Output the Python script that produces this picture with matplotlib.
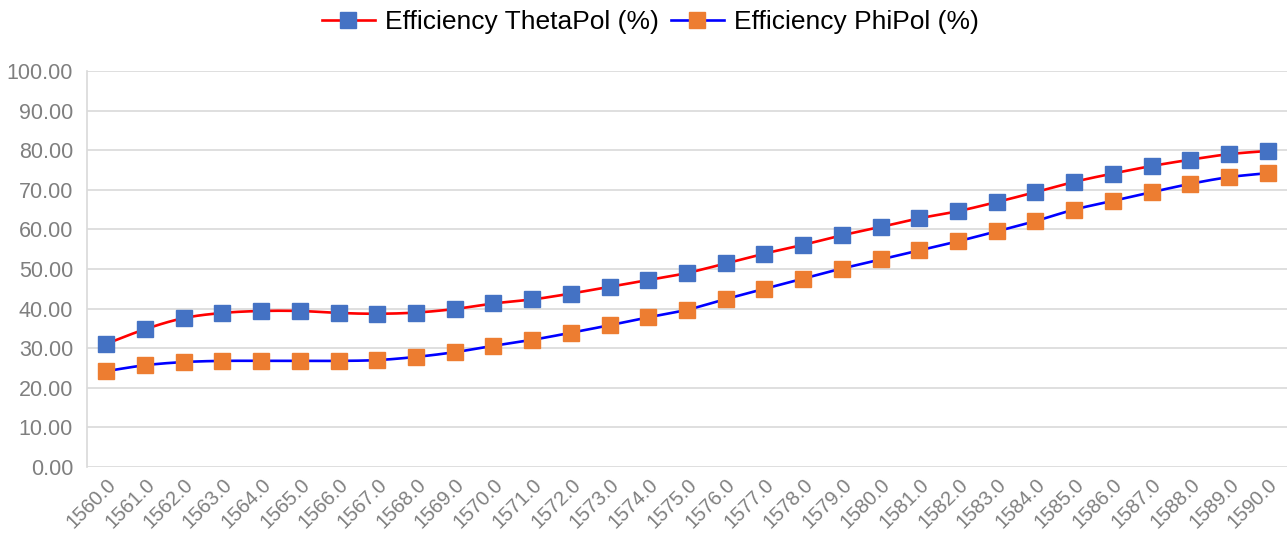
import numpy as np
import matplotlib
matplotlib.use("Agg")
import matplotlib.pyplot as plt
from matplotlib.lines import Line2D

wavelengths = [1560.0 + i for i in range(31)]
tick_labels = [f"{w:.1f}" for w in wavelengths]
theta_eff = [31.1, 34.8, 37.6, 38.9, 39.4, 39.4, 38.9, 38.7, 39.0, 39.9, 41.3,
             42.3, 43.8, 45.5, 47.2, 49.0, 51.4, 53.9, 56.1, 58.5, 60.6,
             62.8, 64.6, 66.9, 69.4, 72.0, 74.1, 76.0, 77.6, 79.0, 79.8]
phi_eff = [24.2, 25.7, 26.5, 26.8, 26.8, 26.8, 26.8, 27.0, 27.8, 29.0, 30.6,
           32.1, 33.9, 35.8, 37.8, 39.7, 42.4, 45.0, 47.6, 50.1, 52.4,
           54.7, 57.0, 59.5, 62.1, 65.0, 67.2, 69.4, 71.5, 73.2, 74.2]
series_names = ["Efficiency ThetaPol (%)", "Efficiency PhiPol (%)"]

plt.rcParams['font.family'] = ['Liberation Sans', 'DejaVu Sans']

def smooth(xs, ys, n=20):
    xs = np.asarray(xs, float); ys = np.asarray(ys, float)
    px, py = [], []
    m = len(xs)
    for i in range(m - 1):
        p0 = (xs[max(i-1, 0)], ys[max(i-1, 0)])
        p1 = (xs[i], ys[i]); p2 = (xs[i+1], ys[i+1])
        p3 = (xs[min(i+2, m-1)], ys[min(i+2, m-1)])
        c1 = (p1[0] + (p2[0]-p0[0])/6, p1[1] + (p2[1]-p0[1])/6)
        c2 = (p2[0] - (p3[0]-p1[0])/6, p2[1] - (p3[1]-p1[1])/6)
        t = np.linspace(0, 1, n, endpoint=(i == m-2))
        for a, b, c, d, out in ((p1[0], c1[0], c2[0], p2[0], px), (p1[1], c1[1], c2[1], p2[1], py)):
            out.extend((1-t)**3*a + 3*(1-t)**2*t*b + 3*(1-t)*t**2*c + t**3*d)
    return np.array(px), np.array(py)

fig = plt.figure(figsize=(12.88, 5.44), dpi=100)
ax = fig.add_axes([87/1288, 77/544, 1200/1288, 396/544])

x = np.arange(len(wavelengths))
styles = [(theta_eff, '#FF0000', '#4472C4'), (phi_eff, '#0000FF', '#ED7D31')]
handles = []
for (vals, lc, mc), name in zip(styles, series_names):
    sx, sy = smooth(x, vals)
    ax.plot(sx, sy, color=lc, lw=1.9, zorder=3)
    ax.plot(x, vals, ls='none', marker='s', ms=11, mfc=mc, mec=mc, zorder=4)
    handles.append(Line2D([], [], color=lc, lw=1.9, marker='s', ms=11, mfc=mc, mec=mc))

ax.set_xlim(-0.5, len(wavelengths) - 0.5)
ax.set_ylim(0, 100)
ax.set_yticks(np.arange(0, 101, 10))
ax.set_yticklabels([f"{v:.2f}" for v in np.arange(0, 101, 10)])
ax.set_xticks(x)
ax.set_xticklabels(tick_labels, rotation=45, ha='right', va='top', rotation_mode='anchor')
ax.tick_params(axis='both', length=0, colors='#7F7F7F')
ax.tick_params(axis='x', pad=6, labelsize=14.5)
ax.tick_params(axis='y', pad=10, labelsize=15.5)
ax.grid(axis='y', color='#D9D9D9', lw=1.2)
ax.set_axisbelow(True)
for s in ['top', 'right', 'bottom']:
    ax.spines[s].set_visible(False)
ax.spines['left'].set_color('#D9D9D9')
ax.spines['left'].set_linewidth(1.2)

fig.legend(handles, series_names, loc='center', bbox_to_anchor=(0.505, 1 - 22/544), ncol=2,
           frameon=False, fontsize=19, handlelength=2.0, columnspacing=0.45, handletextpad=0.4)

fig.savefig("out.png", dpi=100)
